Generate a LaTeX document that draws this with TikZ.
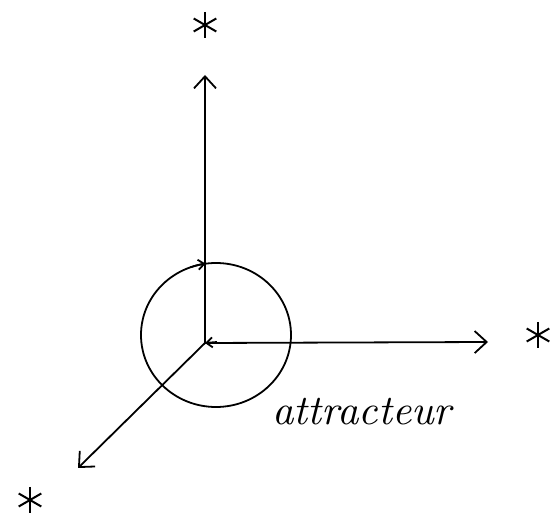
\documentclass[tikz,border=0pt]{standalone}
\usepackage{amsmath}
\usetikzlibrary{arrows.meta,calc}

\begin{document}
\begin{tikzpicture}[x=1pt,y=1pt,line width=1.8pt,
    barb/.style={-{Straight Barb[length=12pt,width=22pt,line width=1.8pt]}},
    smallbarb/.style={-{Straight Barb[length=6pt,width=10pt,line width=1.8pt]}},
    asterisk/.pic={\foreach \a in {90,30,150} \draw[line width=2pt] (\a:13) -- (\a+180:13);}]
        \useasboundingbox (0,0) rectangle (555,528);
        % Points
        \coordinate (O) at (205,185);
        \coordinate (up) at (205,453);
        \coordinate (right) at (488,186);
        \coordinate (down) at (78,60);
        \coordinate (C) at (216,193);
        
        % Draw axes
        \draw[barb] (O) -- (up);
        \draw[barb] (O) -- (right);
        \draw[barb] (O) -- (down);
        \draw[smallbarb] ($(O)+(12,1)$) -- (O);
        
        % Draw attractor
        \draw (C) circle [x radius=75, y radius=72];
        \draw[smallbarb] ($(C)+(110:75 and 72)$) arc (110:98:75 and 72);
        
        % Draw stars
        \pic at (205,503) {asterisk};
        \pic at (538,193) {asterisk};
        \pic at (30,28) {asterisk};
        
        % Add labels
        \node[scale=4.2,font=\itshape] (lab) at (362,116) {attracteur};
    \end{tikzpicture}
\end{document}
